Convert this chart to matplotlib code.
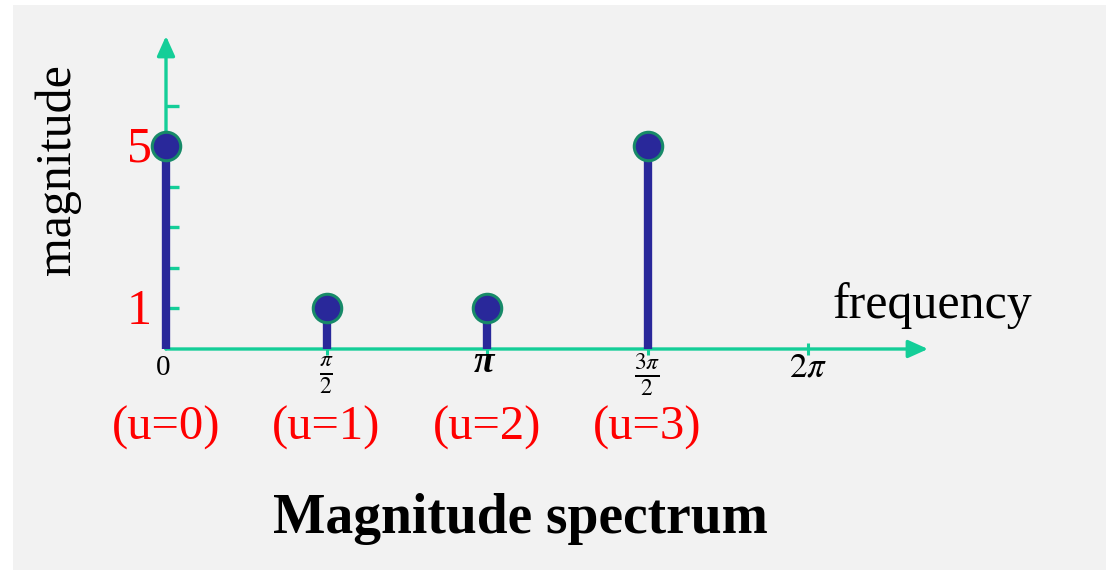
import numpy as np
import matplotlib
matplotlib.use("Agg")
import matplotlib.pyplot as plt
from matplotlib.patches import Rectangle

# ---- data -------------------------------------------------------------
u_index = [0, 1, 2, 3]
frequencies = [0.0, 0.5 * np.pi, np.pi, 1.5 * np.pi]
magnitudes = [5, 1, 1, 5]
u_labels = ["(u=0)", "(u=1)", "(u=2)", "(u=3)"]

xtick_values = [0.5 * np.pi, np.pi, 1.5 * np.pi, 2 * np.pi]
xtick_labels = [r"$\frac{\pi}{2}$", "π", r"$\frac{3\pi}{2}$", r"$2\pi$"]
ytick_values = [1, 2, 3, 4, 5, 6]
ylabel_values = [1, 5]

# ---- styling ----------------------------------------------------------
plt.rcParams["font.family"] = ["Liberation Serif", "DejaVu Serif"]
plt.rcParams["mathtext.fontset"] = "stix"

AXIS_COLOR = "#14CE98"
STEM_COLOR = "#29289A"
EDGE_COLOR = "#178A68"
RED = "#FF0000"
PANEL = "#F2F2F2"

W, H, DPI = 1106, 570, 100
fig = plt.figure(figsize=(W / DPI, H / DPI), dpi=DPI, facecolor="white")
fig.patches.append(Rectangle((13 / W, 0), 1 - 13 / W, 565 / H,
                             transform=fig.transFigure, facecolor=PANEL,
                             edgecolor="none", zorder=-1))

ax = fig.add_axes([0, 0, 1, 1])
ax.patch.set_visible(False)
ax.set_axis_off()

# pixel scale of the plot region
x0_px, px_per_x = 166.0, 160.5 / (np.pi / 2)
y0_px, px_per_y = 349.0, 40.5
ax.set_xlim(-x0_px / px_per_x, (W - x0_px) / px_per_x)
ax.set_ylim(-(H - y0_px) / px_per_y, y0_px / px_per_y)


def dx(px):
    return px / px_per_x


def dy(px):
    return px / px_per_y


x_end = dx(928 - x0_px)
y_end = dy(y0_px - 36)

# axes with arrow heads
arrow_kw = dict(arrowstyle="-|>,head_length=0.4,head_width=0.18",
                color=AXIS_COLOR, lw=2.4, shrinkA=0, shrinkB=0,
                mutation_scale=30)
ax.annotate("", xy=(x_end, 0), xytext=(0, 0), arrowprops=arrow_kw, zorder=2)
ax.annotate("", xy=(0, y_end), xytext=(0, 0), arrowprops=arrow_kw, zorder=2)

# tick marks
for yv in ytick_values:
    ax.plot([0, dx(13)], [yv, yv], color=AXIS_COLOR, lw=2.4,
            solid_capstyle="butt", zorder=2)
for xv in xtick_values:
    ax.plot([xv, xv], [dy(6), -dy(6)], color=AXIS_COLOR, lw=2.2,
            solid_capstyle="butt", zorder=2)

# stems and markers
ax.vlines(frequencies, 0, magnitudes, color=STEM_COLOR, lw=6.0, zorder=3)
ax.plot(frequencies, magnitudes, "o", ms=20.5, mfc=STEM_COLOR,
        mec=EDGE_COLOR, mew=2.2, zorder=4)

# y value labels
for yv in ylabel_values:
    ax.text(-dx(14), yv - dy(3), str(yv), color=RED, fontsize=36,
            ha="right", va="center")

# x tick labels
ax.text(0 - dx(3), -dy(19), "0", fontsize=21, ha="center", va="center")
for xv, lab in zip(xtick_values, xtick_labels):
    if lab == "π":
        ax.text(xv - dx(3), -dy(14), lab, fontsize=27, ha="center",
                va="center", fontstyle="italic", fontweight="bold")
    elif lab.startswith(r"$\frac"):
        ax.text(xv, -dy(26), lab, fontsize=24, ha="center", va="center")
    else:
        ax.text(xv, -dy(19), lab, fontsize=25, ha="center", va="center")

# (u=k) labels under each component
for xv, lab in zip(frequencies, u_labels):
    ax.text(xv, -dy(428 - y0_px), lab, color=RED, fontsize=35,
            ha="center", va="center")

# axis names
ax.text(dx(833 - x0_px), dy(y0_px - 318), "frequency", fontsize=36,
        ha="left", va="baseline")
ax.text(-dx(x0_px - 58), dy(y0_px - 170), "magnitude", fontsize=36,
        rotation=90, ha="center", va="center")

# title
fig.text(520 / W, 1 - 519 / H, "Magnitude spectrum", fontsize=40,
         fontweight="bold", ha="center", va="center")

fig.savefig("out.png", dpi=DPI, facecolor="white")
